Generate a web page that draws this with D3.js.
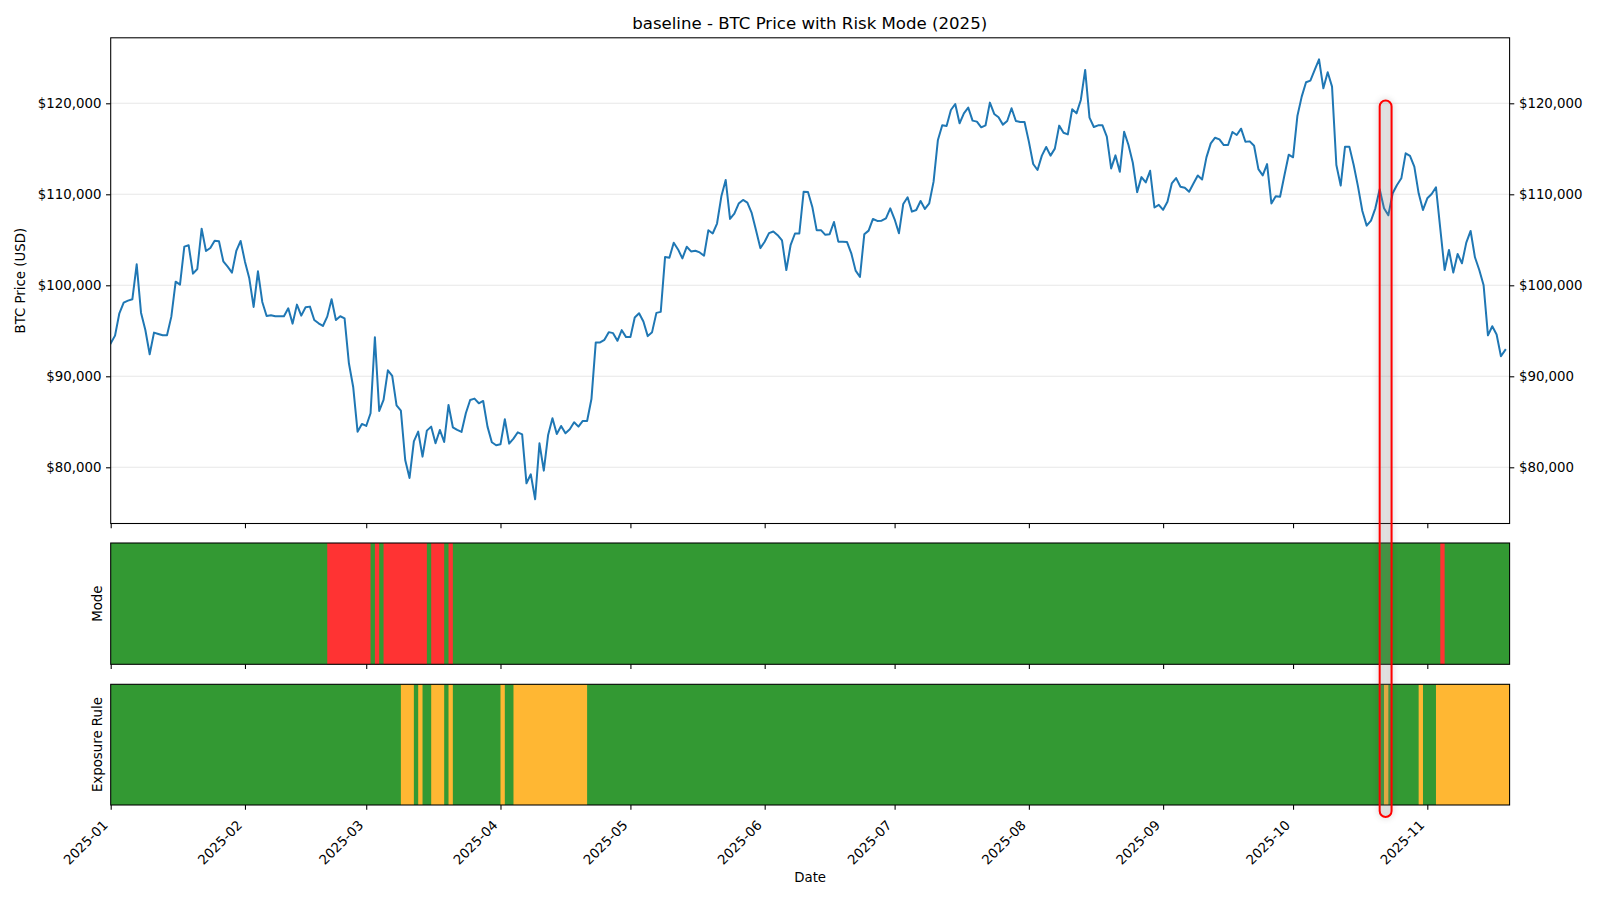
<!DOCTYPE html>
<html><head><meta charset="utf-8">
<script src="https://cdn.jsdelivr.net/npm/d3@7"></script>
<style>
body{margin:0;background:#fff}
svg{font-family:"DejaVu Sans",sans-serif;display:block}
</style>
</head><body><svg id="chart" width="1600" height="900"></svg>
<script>
// ---------------- data ----------------
const chartTitle = "baseline - BTC Price with Risk Mode (2025)";
const startDate = "2025-01-01";
const endDate = "2025-11-20";
// daily BTC close, 2025-01-01 .. 2025-11-19
const prices = [
93626,94469,96923,98095,98315,98462,102308,96996,95092,92418,
94799,94652,94506,94506,96557,100403,100073,104249,104396,101282,
101795,106227,103773,104103,104908,104835,102637,102051,101392,103773,
104872,102601,100769,97619,101538,98169,96630,96703,96593,96593,
96593,97473,95788,97875,96667,97582,97656,96190,95824,95531,
96557,98462,96190,96600,96374,91429,88791,83919,84762,84542,
85934,94286,86190,87399,90659,90037,86813,86227,80806,78828,
82857,83919,81172,84029,84469,82637,84103,82784,86850,84396,
84103,83883,85934,87399,87546,87033,87289,84469,82747,82418,
82527,85275,82601,83150,83846,83626,78242,79231,76484,82637,
79634,83553,85385,83663,84542,83736,84176,84945,84469,85092,
85092,87500,93721,93721,94013,94852,94743,93903,95071,94305,
94305,96458,96933,96020,94414,94852,96969,97079,103101,103028,
104671,103941,102955,104233,103722,103795,103612,103247,106058,105693,
106788,109781,111570,107299,107883,108978,109379,109087,107956,106058,
104087,104780,105729,105912,105510,104926,101678,104452,105693,105693,
110292,110255,108613,106058,106058,105547,105620,106960,104799,104799,
104762,103516,101612,100916,105604,106007,107289,107070,107106,107363,
108462,107253,105714,108938,109670,108095,108278,109267,108388,109011,
111392,115971,117582,117509,119267,119927,117802,118901,119524,118095,
117985,117363,117582,120073,118828,118462,117656,118059,119451,118059,
117949,117949,115788,113333,112674,114249,115201,114249,115018,117546,
116770,116587,119339,118899,120367,123670,118422,117394,117578,117578,
116330,112843,114275,112476,116880,115412,113467,110238,111889,111302,
112587,108550,108843,108293,109173,111192,111779,110825,110715,110274,
111192,112073,111632,114055,115596,116220,116036,115412,115412,116844,
116513,117211,115779,115816,115339,112770,112073,113321,108990,109797,
109724,112073,114348,114066,118600,120733,122308,122491,123663,124835,
121648,123407,121832,113223,110952,115238,115238,113223,110842,108169,
106557,107106,108462,110549,108462,107692,110110,111026,111758,114505,
114212,113040,110110,108278,109560,110037,110769,106190,101685,103883,
101392,103443,102418,104689,105971,103077,101685,100000,94500,95500,
94600,92200,92900
];
const priceDomain = [73824, 127198];
const yTicks = [80000, 90000, 100000, 110000, 120000];
const monthTicks = ["2025-01","2025-02","2025-03","2025-04","2025-05","2025-06","2025-07","2025-08","2025-09","2025-10","2025-11"];
// Mode panel: days in "risk-off" (red); all other days are "risk-on" (green)
const modeRiskOff = [
  ["2025-02-20","2025-03-02"],["2025-03-03","2025-03-04"],["2025-03-05","2025-03-15"],
  ["2025-03-16","2025-03-19"],["2025-03-20","2025-03-21"],["2025-11-04","2025-11-05"]
];
// Exposure panel: days with reduced exposure (orange); others full (green)
const exposureReduced = [
  ["2025-03-09","2025-03-12"],["2025-03-13","2025-03-14"],["2025-03-16","2025-03-19"],
  ["2025-03-20","2025-03-21"],["2025-04-01","2025-04-02"],["2025-04-04","2025-04-21"],
  ["2025-10-22","2025-10-23"],["2025-10-30","2025-10-31"],["2025-11-03","2025-11-20"]
];
const highlightRange = ["2025-10-21","2025-10-23T18:00"];
const highlightTopPrice = 120300;

// ---------------- drawing ----------------
const parse = s => s.length > 10 ? d3.timeParse("%Y-%m-%dT%H:%M")(s) : d3.timeParse("%Y-%m-%d")(s);
const parseMonth = d3.timeParse("%Y-%m");
const dates = d3.timeDay.range(parse(startDate), d3.timeDay.offset(parse(startDate), prices.length));
const series = dates.map((d, i) => ({date: d, value: prices[i]}));

const svg = d3.select("#chart");
const L = 110.7, R = 1509.6;
const P1 = {top: 37.8, bottom: 523.5};
const P2 = {top: 543, bottom: 664.3};
const P3 = {top: 684.3, bottom: 805};
const FS = 13.33, TL = 4.67, TP = 4.67, LW = 1.07;

const x = d3.scaleTime().domain([parse(startDate), parse(endDate)]).range([L, R]);
const y = d3.scaleLinear().domain(priceDomain).range([P1.bottom, P1.top]);

const GREEN = "#339933", RED = "#ff3333", ORANGE = "#ffb733";

function styleAxis(g) {
  g.select(".domain").remove();
  g.selectAll(".tick line").attr("stroke", "#000").attr("stroke-width", LW);
  g.selectAll(".tick text").attr("font-size", FS).attr("fill", "#000").attr("font-family", "DejaVu Sans");
}

// defs
const defs = svg.append("defs");
const clip = defs.append("clipPath").attr("id", "clip1");
clip.append("rect").attr("x", L).attr("y", P1.top).attr("width", R - L).attr("height", P1.bottom - P1.top);
const f = defs.append("filter").attr("id", "shadow").attr("x", "-200%").attr("y", "-10%").attr("width", "500%").attr("height", "120%");
f.append("feGaussianBlur").attr("in", "SourceAlpha").attr("stdDeviation", 3).attr("result", "b");
f.append("feFlood").attr("flood-color", "#000").attr("flood-opacity", 0.25);
f.append("feComposite").attr("in2", "b").attr("operator", "in").attr("result", "s");
const fm = f.append("feMerge");
fm.append("feMergeNode").attr("in", "s");
fm.append("feMergeNode").attr("in", "SourceGraphic");

// ---- panel 1: price ----
svg.append("g").selectAll("line").data(yTicks).join("line")
  .attr("x1", L).attr("x2", R).attr("y1", d => y(d)).attr("y2", d => y(d))
  .attr("stroke", "#b0b0b0").attr("stroke-opacity", 0.3).attr("stroke-width", LW);

const line = d3.line().x(d => x(d.date)).y(d => y(d.value));
svg.append("path").datum(series).attr("d", line).attr("fill", "none")
  .attr("stroke", "#1f77b4").attr("stroke-width", 2).attr("stroke-linejoin", "round")
  .attr("stroke-linecap", "square").attr("clip-path", "url(#clip1)");

svg.append("g").attr("transform", `translate(${L},0)`)
  .call(d3.axisLeft(y).tickValues(yTicks).tickFormat(d3.format("$,")).tickSize(TL).tickPadding(TP))
  .call(styleAxis);
svg.append("g").attr("transform", `translate(${R},0)`)
  .call(d3.axisRight(y).tickValues(yTicks).tickFormat(d3.format("$,")).tickSize(TL).tickPadding(TP))
  .call(styleAxis);

const monthDates = monthTicks.map(parseMonth);
function xTicks(py) {
  svg.append("g").attr("transform", `translate(0,${py})`)
    .call(d3.axisBottom(x).tickValues(monthDates).tickFormat("").tickSize(TL))
    .call(styleAxis);
}
xTicks(P1.bottom);

svg.append("rect").attr("x", L).attr("y", P1.top).attr("width", R - L).attr("height", P1.bottom - P1.top)
  .attr("fill", "none").attr("stroke", "#000").attr("stroke-width", LW);

svg.append("text").attr("x", 809.7).attr("y", 28.7).attr("text-anchor", "middle")
  .attr("font-size", 16.6).text(chartTitle);
svg.append("text").attr("transform", `translate(25,${(P1.top + P1.bottom) / 2}) rotate(-90)`)
  .attr("text-anchor", "middle").attr("font-size", FS).text("BTC Price (USD)");

// ---- panel 2 & 3: state bands ----
function band(P, periods, onColor, offColor, label) {
  svg.append("rect").attr("x", L).attr("y", P.top).attr("width", R - L).attr("height", P.bottom - P.top).attr("fill", onColor);
  svg.append("g").selectAll("rect").data(periods).join("rect")
    .attr("x", d => x(parse(d[0]))).attr("width", d => x(parse(d[1])) - x(parse(d[0])))
    .attr("y", P.top).attr("height", P.bottom - P.top).attr("fill", offColor);
  svg.append("rect").attr("x", L).attr("y", P.top).attr("width", R - L).attr("height", P.bottom - P.top)
    .attr("fill", "none").attr("stroke", "#000").attr("stroke-width", LW);
  svg.append("text").attr("transform", `translate(102,${(P.top + P.bottom) / 2}) rotate(-90)`)
    .attr("text-anchor", "middle").attr("font-size", FS).text(label);
}
band(P2, modeRiskOff, GREEN, RED, "Mode");
xTicks(P2.bottom);
band(P3, exposureReduced, GREEN, ORANGE, "Exposure Rule");
xTicks(P3.bottom);

// x tick labels (rotated 45°)
svg.append("g").selectAll("text").data(monthDates).join("text")
  .attr("transform", d => `translate(${x(d) - 2},826) rotate(-45)`)
  .attr("text-anchor", "end").attr("font-size", FS).text((d, i) => monthTicks[i]);
svg.append("text").attr("x", (L + R) / 2).attr("y", 881.5).attr("text-anchor", "middle")
  .attr("font-size", FS).text("Date");

// ---- highlight annotation ----
const hx0 = x(parse(highlightRange[0])), hx1 = x(parse(highlightRange[1]));
svg.append("rect").attr("x", hx0).attr("y", y(highlightTopPrice))
  .attr("width", hx1 - hx0).attr("height", P3.bottom + 12 - y(highlightTopPrice))
  .attr("rx", 6).attr("ry", 6)
  .attr("fill", "rgba(140,140,140,0.18)").attr("stroke", "#ff0000").attr("stroke-width", 2)
  .attr("filter", "url(#shadow)");
</script>
</body></html>
